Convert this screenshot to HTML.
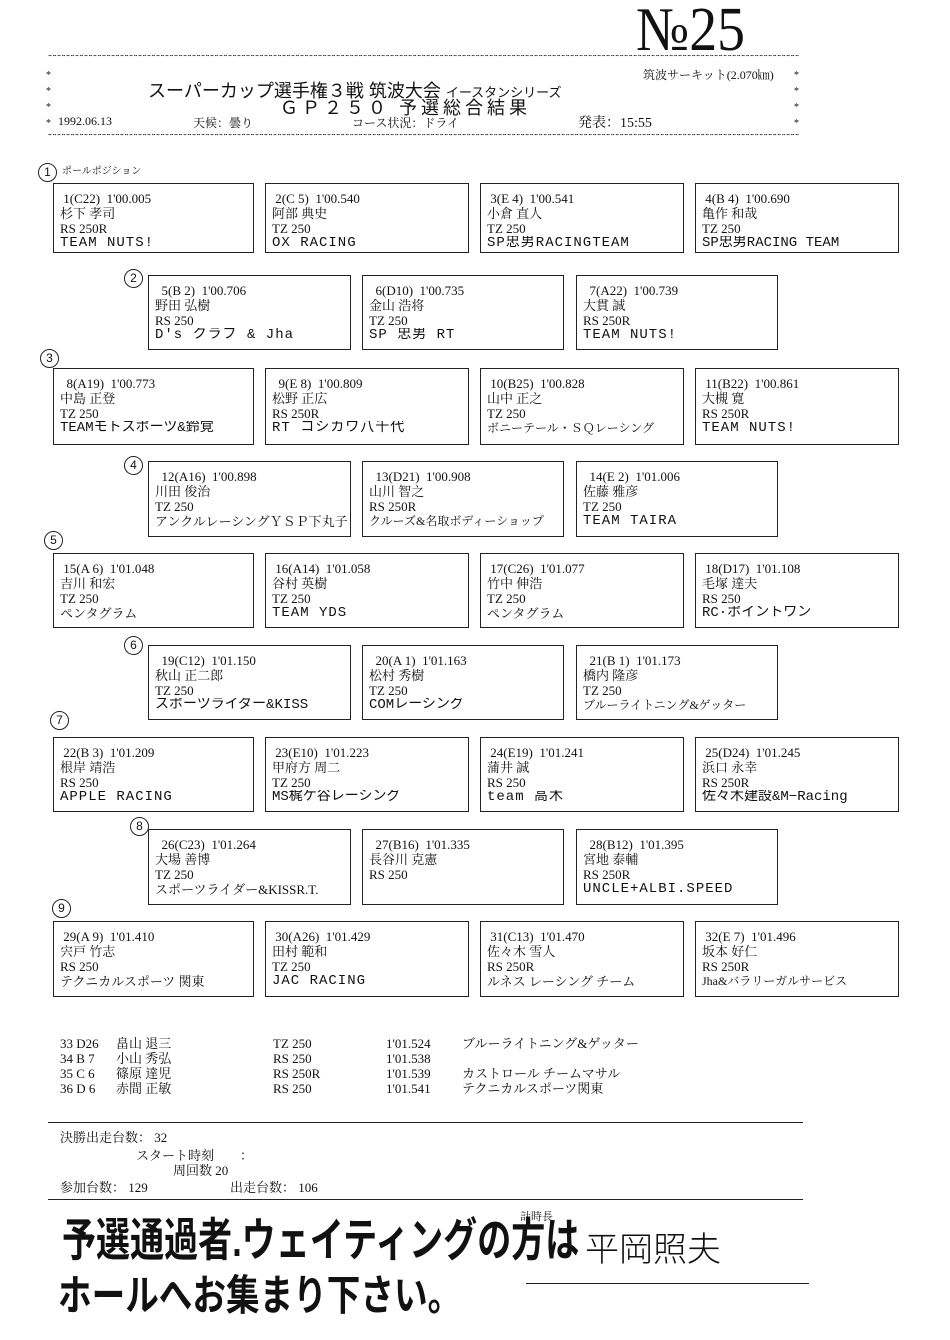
<!DOCTYPE html>
<html><head><meta charset="utf-8">
<style>
body{margin:0;width:950px;height:1340px;background:#fff;position:relative;overflow:hidden;font-family:"Liberation Serif","Noto Serif CJK SC","Noto Sans CJK JP",serif;color:#111}
.a{position:absolute;white-space:nowrap}
.b{position:absolute;border:1.5px solid #222;height:70px;box-sizing:border-box;font-size:13px;line-height:15px;padding:7px 0 0 6px}
.b div{white-space:pre;overflow:hidden}
.b .t{font-family:"Liberation Mono","Noto Sans CJK JP",monospace;font-size:14px;letter-spacing:1px}
.c{position:absolute;width:17px;height:17px;border:1.3px solid #222;border-radius:50%;font-size:12px;line-height:17px;text-align:center;font-family:"Liberation Sans",sans-serif}
.st{position:absolute;left:47px;width:752px;height:6px;overflow:hidden;font-size:10px;line-height:8px;letter-spacing:-1.5px;font-family:"Liberation Mono",monospace;font-weight:bold}
.hand{font-family:"Liberation Sans","Noto Sans CJK JP",sans-serif;font-weight:bold}
</style></head><body>
<div class="a" style="left:636px;top:0px;font-size:62px;font-family:'Liberation Serif',serif;transform:scaleX(0.9);transform-origin:left;line-height:60px">№25</div>
<div class="st" style="top:55px">**************************************************************************************************************************************************************************************************</div>
<div class="st" style="top:134px">**************************************************************************************************************************************************************************************************</div>
<div class="a" style="left:46px;top:68px;font-size:10px;line-height:16px">*<br>*<br>*<br>*</div>
<div class="a" style="left:794px;top:68px;font-size:10px;line-height:16px">*<br>*<br>*<br>*</div>
<div class="a" style="left:643px;top:66px;font-size:12px">筑波サーキット(2.070㎞)</div>
<div class="a" style="left:148px;top:77px;font-size:18px;font-family:'Liberation Sans','Noto Sans CJK JP',sans-serif">スーパーカップ選手権３戦 筑波大会 <span style="font-size:13px">イースタンシリーズ</span></div>
<div class="a" style="left:280px;top:94px;font-size:18px;letter-spacing:4px;font-family:'Liberation Sans','Noto Sans CJK JP',sans-serif">ＧＰ２５０ 予選総合結果</div>
<div class="a" style="left:58px;top:114px;font-size:12px">1992.06.13</div>
<div class="a" style="left:193px;top:114px;font-size:12px">天候：曇り</div>
<div class="a" style="left:352px;top:114px;font-size:12px">コース状況：ドライ</div>
<div class="a" style="left:578px;top:112px;font-size:14px">発表：15:55</div>
<div class="c" style="left:38px;top:163px">1</div><div class="a" style="left:62px;top:162px;font-size:10px">ポールポジション</div>
<div class="c" style="left:124px;top:269px">2</div>
<div class="c" style="left:40px;top:349px">3</div>
<div class="c" style="left:124px;top:456px">4</div>
<div class="c" style="left:44px;top:531px">5</div>
<div class="c" style="left:124px;top:636px">6</div>
<div class="c" style="left:50px;top:711px">7</div>
<div class="c" style="left:130px;top:817px">8</div>
<div class="c" style="left:52px;top:899px">9</div>

<div class="b" style="left:53px;top:183px;width:201px"><div> 1(C22)  1'00.005</div><div>杉下 孝司</div><div>RS 250R</div><div class="t">TEAM NUTS!</div></div>
<div class="b" style="left:265px;top:183px;width:204px"><div> 2(C 5)  1'00.540</div><div>阿部 典史</div><div>TZ 250</div><div class="t">OX RACING</div></div>
<div class="b" style="left:480px;top:183px;width:204px"><div> 3(E 4)  1'00.541</div><div>小倉 直人</div><div>TZ 250</div><div class="t">SP忠男RACINGTEAM</div></div>
<div class="b" style="left:695px;top:183px;width:204px"><div> 4(B 4)  1'00.690</div><div>亀作 和哉</div><div>TZ 250</div><div class="t" style="letter-spacing:0">SP忠男RACING TEAM</div></div>

<div class="b" style="left:148px;top:275px;width:203px;height:75px"><div>  5(B 2)  1'00.706</div><div>野田 弘樹</div><div>RS 250</div><div class="t">D's クラブ & Jha</div></div>
<div class="b" style="left:362px;top:275px;width:202px;height:75px"><div>  6(D10)  1'00.735</div><div>金山 浩将</div><div>TZ 250</div><div class="t">SP 忠男 RT</div></div>
<div class="b" style="left:576px;top:275px;width:202px;height:75px"><div>  7(A22)  1'00.739</div><div>大貫 誠</div><div>RS 250R</div><div class="t">TEAM NUTS!</div></div>

<div class="b" style="left:53px;top:368px;width:201px;height:77px"><div>  8(A19)  1'00.773</div><div>中島 正登</div><div>TZ 250</div><div class="t" style="letter-spacing:0">TEAMモトスポーツ&鈴覚</div></div>
<div class="b" style="left:265px;top:368px;width:204px;height:77px"><div>  9(E 8)  1'00.809</div><div>松野 正広</div><div>RS 250R</div><div class="t">RT コシカワ八千代</div></div>
<div class="b" style="left:480px;top:368px;width:204px;height:77px"><div> 10(B25)  1'00.828</div><div>山中 正之</div><div>TZ 250</div><div style="font-size:12px">ボニーテール・ＳＱレーシング</div></div>
<div class="b" style="left:695px;top:368px;width:204px;height:77px"><div> 11(B22)  1'00.861</div><div>大槻 寛</div><div>RS 250R</div><div class="t">TEAM NUTS!</div></div>

<div class="b" style="left:148px;top:461px;width:203px;height:76px"><div>  12(A16)  1'00.898</div><div>川田 俊治</div><div>TZ 250</div><div style="font-size:13px">アンクルレーシングＹＳＰ下丸子</div></div>
<div class="b" style="left:362px;top:461px;width:202px;height:76px"><div>  13(D21)  1'00.908</div><div>山川 智之</div><div>RS 250R</div><div style="font-size:12px">クルーズ&名取ボディーショップ</div></div>
<div class="b" style="left:576px;top:461px;width:202px;height:76px"><div>  14(E 2)  1'01.006</div><div>佐藤 雅彦</div><div>TZ 250</div><div class="t">TEAM TAIRA</div></div>

<div class="b" style="left:53px;top:553px;width:201px;height:75px"><div> 15(A 6)  1'01.048</div><div>吉川 和宏</div><div>TZ 250</div><div>ペンタグラム</div></div>
<div class="b" style="left:265px;top:553px;width:204px;height:75px"><div> 16(A14)  1'01.058</div><div>谷村 英樹</div><div>TZ 250</div><div class="t">TEAM YDS</div></div>
<div class="b" style="left:480px;top:553px;width:204px;height:75px"><div> 17(C26)  1'01.077</div><div>竹中 伸浩</div><div>TZ 250</div><div>ペンタグラム</div></div>
<div class="b" style="left:695px;top:553px;width:204px;height:75px"><div> 18(D17)  1'01.108</div><div>毛塚 達夫</div><div>RS 250</div><div class="t" style="letter-spacing:0">RC·ポイントワン</div></div>

<div class="b" style="left:148px;top:645px;width:203px;height:75px"><div>  19(C12)  1'01.150</div><div>秋山 正二郎</div><div>TZ 250</div><div class="t" style="letter-spacing:0">スポーツライダー&KISS</div></div>
<div class="b" style="left:362px;top:645px;width:202px;height:75px"><div>  20(A 1)  1'01.163</div><div>松村 秀樹</div><div>TZ 250</div><div class="t" style="letter-spacing:0">COMレーシング</div></div>
<div class="b" style="left:576px;top:645px;width:202px;height:75px"><div>  21(B 1)  1'01.173</div><div>橋内 隆彦</div><div>TZ 250</div><div style="font-size:12px">ブルーライトニング&ゲッター</div></div>

<div class="b" style="left:53px;top:737px;width:201px;height:75px"><div> 22(B 3)  1'01.209</div><div>根岸 靖浩</div><div>RS 250</div><div class="t">APPLE RACING</div></div>
<div class="b" style="left:265px;top:737px;width:204px;height:75px"><div> 23(E10)  1'01.223</div><div>甲府方 周二</div><div>TZ 250</div><div class="t" style="letter-spacing:0">MS梶ケ谷レーシング</div></div>
<div class="b" style="left:480px;top:737px;width:204px;height:75px"><div> 24(E19)  1'01.241</div><div>蒲井 誠</div><div>RS 250</div><div class="t">team 高木</div></div>
<div class="b" style="left:695px;top:737px;width:204px;height:75px"><div> 25(D24)  1'01.245</div><div>浜口 永幸</div><div>RS 250R</div><div class="t" style="letter-spacing:0">佐々木建設&M−Racing</div></div>

<div class="b" style="left:148px;top:829px;width:203px;height:76px"><div>  26(C23)  1'01.264</div><div>大場 善博</div><div>TZ 250</div><div>スポーツライダー&KISSR.T.</div></div>
<div class="b" style="left:362px;top:829px;width:202px;height:76px"><div>  27(B16)  1'01.335</div><div>長谷川 克憲</div><div>RS 250</div><div></div></div>
<div class="b" style="left:576px;top:829px;width:202px;height:76px"><div>  28(B12)  1'01.395</div><div>宮地 泰輔</div><div>RS 250R</div><div class="t">UNCLE+ALBI.SPEED</div></div>

<div class="b" style="left:53px;top:921px;width:201px;height:76px"><div> 29(A 9)  1'01.410</div><div>宍戸 竹志</div><div>RS 250</div><div>テクニカルスポーツ 関東</div></div>
<div class="b" style="left:265px;top:921px;width:204px;height:76px"><div> 30(A26)  1'01.429</div><div>田村 範和</div><div>TZ 250</div><div class="t">JAC RACING</div></div>
<div class="b" style="left:480px;top:921px;width:204px;height:76px"><div> 31(C13)  1'01.470</div><div>佐々木 雪人</div><div>RS 250R</div><div>ルネス レーシング チーム</div></div>
<div class="b" style="left:695px;top:921px;width:204px;height:76px"><div> 32(E 7)  1'01.496</div><div>坂本 好仁</div><div>RS 250R</div><div style="font-size:12px">Jha&バラリーガルサービス</div></div>

<div class="a" style="left:60px;top:1036px;font-size:13px;line-height:15px">33 D26<br>34 B 7<br>35 C 6<br>36 D 6</div>
<div class="a" style="left:116px;top:1036px;font-size:13px;line-height:15px">畠山 退三<br>小山 秀弘<br>篠原 達児<br>赤間 正敏</div>
<div class="a" style="left:273px;top:1036px;font-size:13px;line-height:15px">TZ 250<br>RS 250<br>RS 250R<br>RS 250</div>
<div class="a" style="left:386px;top:1036px;font-size:13px;line-height:15px">1'01.524<br>1'01.538<br>1'01.539<br>1'01.541</div>
<div class="a" style="left:462px;top:1036px;font-size:13px;line-height:15px">ブルーライトニング&ゲッター<br>&nbsp;<br>カストロール チームマサル<br>テクニカルスポーツ関東</div>
<div class="a" style="left:48px;top:1122px;width:755px;border-top:1.5px solid #222"></div>
<div class="a" style="left:60px;top:1130px;font-size:13px;line-height:15px">決勝出走台数： 32</div>
<div class="a" style="left:136px;top:1145px;font-size:13px">スタート時刻　　：</div>
<div class="a" style="left:173px;top:1160px;font-size:13px">周回数 20</div>
<div class="a" style="left:60px;top:1177px;font-size:13px">参加台数： 129</div>
<div class="a" style="left:230px;top:1177px;font-size:13px">出走台数： 106</div>
<div class="a" style="left:48px;top:1199px;width:755px;border-top:1.5px solid #222"></div>
<div class="a hand" style="left:62px;top:1204px;font-size:46px;transform:scaleX(0.74);transform-origin:left">予選通過者.ウェイティングの方は</div>
<div class="a" style="left:520px;top:1208px;font-size:11px">計時長</div>
<div class="a" style="left:585px;top:1222px;font-size:34px;font-family:'Noto Sans CJK JP',sans-serif;font-weight:300">平岡照夫</div>
<div class="a" style="left:526px;top:1283px;width:283px;border-top:1.5px solid #222"></div>
<div class="a hand" style="left:58px;top:1262px;font-size:42px;transform:scaleX(0.8);transform-origin:left">ホールへお集まり下さい。</div>
</body></html>
